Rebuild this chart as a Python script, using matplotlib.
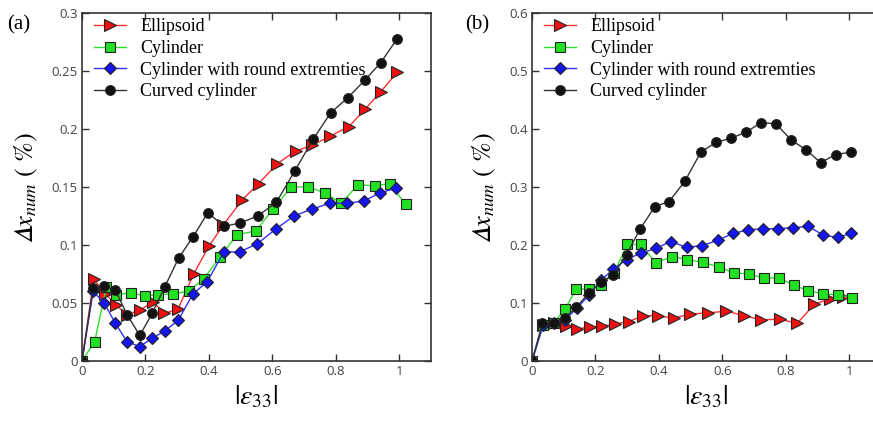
import matplotlib
matplotlib.use('Agg')
import matplotlib.pyplot as plt

# ---- panel (a) data ----
a_ell_x = [0, 0.037, 0.074, 0.108, 0.142, 0.184, 0.223, 0.26, 0.303, 0.352, 0.40, 0.445, 0.505, 0.557, 0.615, 0.673, 0.726, 0.783, 0.841, 0.892, 0.941, 0.994]
a_ell_y = [0, 0.0705, 0.058, 0.048, 0.040, 0.044, 0.051, 0.041, 0.045, 0.075, 0.099, 0.117, 0.139, 0.153, 0.170, 0.181, 0.186, 0.194, 0.202, 0.217, 0.232, 0.249]

a_cyl_x = [0, 0.040, 0.077, 0.108, 0.155, 0.197, 0.239, 0.286, 0.336, 0.384, 0.436, 0.489, 0.547, 0.603, 0.659, 0.713, 0.765, 0.817, 0.870, 0.922, 0.970, 1.02]
a_cyl_y = [0, 0.0167, 0.064, 0.057, 0.059, 0.056, 0.057, 0.058, 0.060, 0.071, 0.090, 0.109, 0.112, 0.131, 0.150, 0.150, 0.145, 0.136, 0.152, 0.151, 0.153, 0.135]

a_rnd_x = [0, 0.035, 0.070, 0.105, 0.142, 0.182, 0.221, 0.261, 0.303, 0.350, 0.394, 0.447, 0.497, 0.552, 0.612, 0.668, 0.725, 0.781, 0.836, 0.889, 0.939, 0.991]
a_rnd_y = [0, 0.060, 0.050, 0.0325, 0.0167, 0.0124, 0.0196, 0.026, 0.035, 0.058, 0.068, 0.094, 0.094, 0.101, 0.114, 0.125, 0.131, 0.136, 0.136, 0.138, 0.145, 0.149]

a_crv_x = [0, 0.035, 0.070, 0.105, 0.142, 0.182, 0.221, 0.261, 0.305, 0.350, 0.397, 0.447, 0.499, 0.554, 0.613, 0.671, 0.728, 0.784, 0.838, 0.891, 0.941, 0.994]
a_crv_y = [0, 0.0627, 0.065, 0.061, 0.040, 0.022, 0.041, 0.064, 0.089, 0.107, 0.128, 0.116, 0.119, 0.125, 0.137, 0.164, 0.191, 0.214, 0.227, 0.242, 0.257, 0.278]

# ---- panel (b) data ----
b_ell_x = [0, 0.035, 0.069, 0.106, 0.143, 0.182, 0.221, 0.263, 0.305, 0.350, 0.397, 0.448, 0.499, 0.555, 0.613, 0.669, 0.723, 0.781, 0.836, 0.890, 0.939, 0.981]
b_ell_y = [0, 0.062, 0.065, 0.060, 0.055, 0.059, 0.060, 0.064, 0.068, 0.078, 0.078, 0.074, 0.081, 0.083, 0.086, 0.078, 0.071, 0.072, 0.065, 0.098, 0.107, 0.111]

b_cyl_x = [0, 0.035, 0.069, 0.103, 0.140, 0.179, 0.219, 0.258, 0.300, 0.343, 0.390, 0.440, 0.489, 0.539, 0.590, 0.636, 0.683, 0.731, 0.778, 0.825, 0.871, 0.918, 0.963, 1.010]
b_cyl_y = [0, 0.062, 0.066, 0.089, 0.124, 0.124, 0.131, 0.151, 0.201, 0.201, 0.169, 0.180, 0.175, 0.170, 0.162, 0.152, 0.150, 0.143, 0.143, 0.131, 0.121, 0.116, 0.114, 0.109]

b_rnd_x = [0, 0.035, 0.069, 0.103, 0.142, 0.180, 0.217, 0.256, 0.298, 0.343, 0.390, 0.437, 0.487, 0.537, 0.585, 0.634, 0.681, 0.729, 0.776, 0.823, 0.871, 0.918, 0.963, 1.007]
b_rnd_y = [0, 0.062, 0.066, 0.071, 0.091, 0.114, 0.139, 0.158, 0.175, 0.186, 0.194, 0.206, 0.196, 0.199, 0.208, 0.220, 0.226, 0.228, 0.228, 0.230, 0.232, 0.217, 0.213, 0.220]

b_crv_x = [0, 0.033, 0.068, 0.103, 0.140, 0.179, 0.219, 0.256, 0.298, 0.340, 0.387, 0.432, 0.482, 0.532, 0.580, 0.627, 0.676, 0.722, 0.769, 0.817, 0.864, 0.910, 0.957, 1.004]
b_crv_y = [0, 0.066, 0.065, 0.074, 0.093, 0.117, 0.137, 0.148, 0.183, 0.227, 0.266, 0.275, 0.310, 0.360, 0.377, 0.384, 0.395, 0.411, 0.409, 0.381, 0.364, 0.342, 0.356, 0.360]

labels = ['Ellipsoid', 'Cylinder', 'Cylinder with round extremties', 'Curved cylinder']

plt.rcParams['mathtext.fontset'] = 'stix'

fig = plt.figure(figsize=(8.73, 4.21), dpi=100)
W, H = 873, 421
ax1 = fig.add_axes([82 / W, 1 - 361 / H, 349 / W, 348 / H])
ax2 = fig.add_axes([532 / W, 1 - 361 / H, 349 / W, 348 / H])


def draw(ax, data, ymax, yticks, yticklabels):
    styles = [
        dict(color='#ff3030', marker='>', mfc='#ee1111', ms=8),
        dict(color='#30e030', marker='s', mfc='#22e022', ms=6.5),
        dict(color='#3030ff', marker='D', mfc='#1515ee', ms=6),
        dict(color='#333333', marker='o', mfc='#111111', ms=7),
    ]
    for (x, y), st, lab in zip(data, styles, labels):
        ax.plot(x, y, lw=1, mec='#222222', mew=0.8, label=lab, **st)
    ax.set_xlim(0, 1.1)
    ax.set_ylim(0, ymax)
    ax.set_xticks([0, 0.2, 0.4, 0.6, 0.8, 1])
    ax.set_xticklabels(['0', '0.2', '0.4', '0.6', '0.8', '1'], family='Open Sans')
    ax.set_yticks(yticks)
    ax.set_yticklabels(yticklabels, family='Open Sans')
    ax.tick_params(direction='in', top=True, right=True, length=5, width=1,
                   labelsize=9.5, labelcolor='#444444', colors='#333333', pad=3)
    for s in ax.spines.values():
        s.set_linewidth(1.2)
        s.set_color('#333333')
    ax.set_xlabel(r'$|\varepsilon_{33}|$', fontsize=20, labelpad=3)
    ax.set_ylabel('$\U0001D6E5 x_{num}\\ (\\ \\mathrm{\\%})$', fontsize=19, labelpad=8)
    ax.legend(loc='upper left', frameon=False, prop={'family': 'Liberation Serif', 'size': 13},
              handlelength=1.75, handletextpad=0.8, labelspacing=0.25,
              borderaxespad=0.0, bbox_to_anchor=(0.015, 1.005))


draw(ax1, [(a_ell_x, a_ell_y), (a_cyl_x, a_cyl_y), (a_rnd_x, a_rnd_y), (a_crv_x, a_crv_y)],
     0.3, [0, 0.05, 0.1, 0.15, 0.2, 0.25, 0.3], ['0', '0.05', '0.1', '0.15', '0.2', '0.25', '0.3'])
draw(ax2, [(b_ell_x, b_ell_y), (b_cyl_x, b_cyl_y), (b_rnd_x, b_rnd_y), (b_crv_x, b_crv_y)],
     0.6, [0, 0.1, 0.2, 0.3, 0.4, 0.5, 0.6], ['0', '0.1', '0.2', '0.3', '0.4', '0.5', '0.6'])

fig.text(7 / W, 1 - 25 / H, '(a)', family='Liberation Serif', fontsize=15, va='center')
fig.text(465 / W, 1 - 25 / H, '(b)', family='Liberation Serif', fontsize=15, va='center')

fig.savefig('out.png', dpi=100)
